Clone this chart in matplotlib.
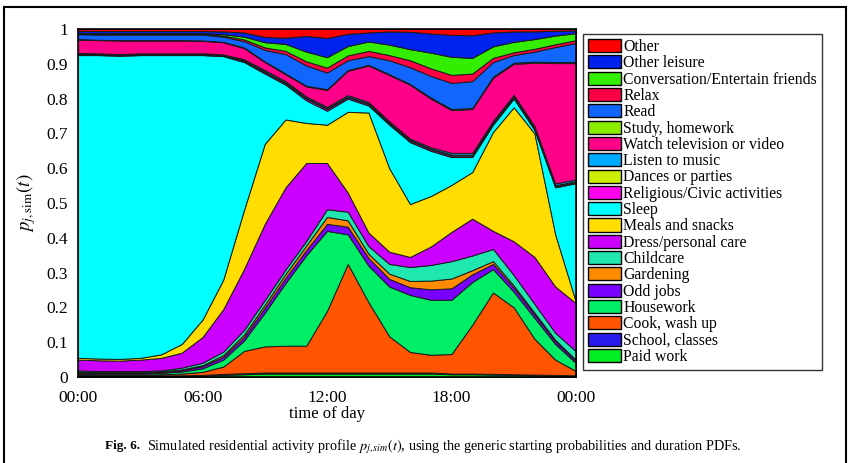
import numpy as np
import matplotlib
matplotlib.use("Agg")
import matplotlib.pyplot as plt
from matplotlib.patches import Patch, Rectangle

plt.rcParams['font.family'] = ['Liberation Serif', 'DejaVu Serif']
plt.rcParams['mathtext.fontset'] = 'stix'

hours = list(range(25))

# stacking order, bottom -> top
paid_work = [0.003,0.003,0.003,0.003,0.003,0.003,0.004,0.006,0.008,0.01,0.01,0.01,0.01,0.01,0.01,0.01,0.01,0.01,0.008,0.008,0.007,0.006,0.005,0.004,0.003]
school = [0.002,0.002,0.002,0.002,0.002,0.002,0.002,0.003,0.003,0.003,0.003,0.003,0.003,0.003,0.003,0.003,0.003,0.003,0.002,0.002,0.002,0.002,0.002,0.002,0.002]
cook = [0.003,0.002,0.002,0.002,0.003,0.005,0.009,0.021,0.064,0.075,0.077,0.077,0.177,0.312,0.202,0.104,0.059,0.051,0.056,0.14,0.234,0.192,0.103,0.044,0.012]
housework = [0.003,0.003,0.003,0.003,0.004,0.006,0.01,0.02,0.03,0.097,0.18,0.26,0.23,0.085,0.105,0.143,0.164,0.158,0.156,0.123,0.067,0.045,0.06,0.045,0.023]
odd_jobs = [0.003,0.003,0.003,0.003,0.003,0.004,0.006,0.008,0.01,0.014,0.015,0.015,0.02,0.022,0.022,0.022,0.022,0.03,0.033,0.022,0.015,0.012,0.01,0.008,0.006]
gardening = [0.001,0.001,0.001,0.001,0.001,0.002,0.003,0.005,0.007,0.009,0.011,0.013,0.02,0.018,0.012,0.015,0.018,0.025,0.028,0.012,0.008,0.006,0.005,0.004,0.003]
childcare = [0.004,0.003,0.003,0.003,0.003,0.005,0.007,0.01,0.013,0.013,0.013,0.013,0.022,0.025,0.022,0.028,0.04,0.045,0.05,0.042,0.035,0.03,0.025,0.02,0.025]
dress = [0.031,0.031,0.030,0.033,0.036,0.043,0.074,0.122,0.175,0.219,0.236,0.224,0.133,0.055,0.039,0.035,0.029,0.053,0.084,0.106,0.052,0.097,0.135,0.133,0.138]
meals = [0.005,0.005,0.005,0.005,0.01,0.025,0.05,0.085,0.17,0.23,0.195,0.115,0.11,0.232,0.345,0.24,0.152,0.145,0.135,0.134,0.284,0.385,0.355,0.15,0.003]
sleep = [0.87,0.872,0.871,0.87,0.86,0.83,0.76,0.642,0.425,0.202,0.10,0.065,0.04,0.038,0.02,0.125,0.178,0.13,0.08,0.043,0.021,0.025,0.01,0.135,0.342]
religious = [0.002,0.002,0.002,0.002,0.002,0.002,0.002,0.002,0.003,0.004,0.004,0.005,0.005,0.004,0.004,0.004,0.004,0.004,0.004,0.004,0.003,0.003,0.003,0.003,0.003]
dances = [0.001,0.001,0.001,0.001,0.001,0.001,0.001,0.001,0.002,0.002,0.002,0.002,0.002,0.002,0.002,0.002,0.002,0.002,0.003,0.003,0.003,0.003,0.003,0.003,0.003]
music = [0.003,0.002,0.002,0.002,0.002,0.002,0.002,0.002,0.003,0.004,0.004,0.004,0.004,0.004,0.004,0.004,0.004,0.004,0.005,0.005,0.005,0.005,0.005,0.005,0.005]
television = [0.039,0.038,0.039,0.037,0.037,0.037,0.036,0.035,0.032,0.023,0.02,0.029,0.049,0.07,0.105,0.133,0.155,0.14,0.123,0.126,0.124,0.089,0.182,0.346,0.334]
study = [0.001,0.001,0.001,0.001,0.001,0.001,0.001,0.001,0.002,0.002,0.002,0.002,0.002,0.002,0.002,0.002,0.002,0.003,0.003,0.003,0.003,0.003,0.003,0.003,0.003]
read = [0.014,0.015,0.016,0.016,0.016,0.016,0.017,0.015,0.018,0.033,0.056,0.058,0.048,0.028,0.025,0.04,0.048,0.062,0.075,0.077,0.042,0.022,0.029,0.043,0.055]
relax = [0.002,0.002,0.002,0.002,0.002,0.002,0.002,0.003,0.005,0.007,0.009,0.012,0.014,0.014,0.015,0.015,0.02,0.022,0.023,0.022,0.012,0.008,0.008,0.008,0.008]
conversation = [0.002,0.002,0.002,0.002,0.002,0.002,0.002,0.004,0.008,0.015,0.02,0.028,0.03,0.027,0.027,0.03,0.032,0.045,0.052,0.045,0.033,0.03,0.028,0.025,0.02]
other_leisure = [0.006,0.006,0.006,0.006,0.006,0.006,0.006,0.008,0.012,0.015,0.018,0.045,0.055,0.035,0.026,0.038,0.05,0.055,0.063,0.065,0.04,0.03,0.022,0.014,0.008]
other = [0.005,0.006,0.006,0.006,0.006,0.006,0.006,0.007,0.01,0.023,0.025,0.02,0.026,0.014,0.01,0.007,0.008,0.013,0.017,0.018,0.01,0.007,0.007,0.005,0.004]

labels = ["Paid work", "School, classes", "Cook, wash up", "Housework", "Odd jobs",
          "Gardening", "Childcare", "Dress/personal care", "Meals and snacks", "Sleep",
          "Religious/Civic activities", "Dances or parties", "Listen to music",
          "Watch television or video", "Study, homework", "Read", "Relax",
          "Conversation/Entertain friends", "Other leisure", "Other"]
series = [paid_work, school, cook, housework, odd_jobs, gardening, childcare, dress,
          meals, sleep, religious, dances, music, television, study, read, relax,
          conversation, other_leisure, other]
colors = ["#00ee22", "#2a1aee", "#ff5500", "#00ee66", "#7a00ff", "#ff8c00", "#1ee8b0",
          "#cc00ff", "#ffdd00", "#00ffff", "#ff00ee", "#ccee00", "#00aaff", "#ff0088",
          "#88ee00", "#1166ff", "#ff0044", "#33ee00", "#0022ee", "#ff0000"]

fig = plt.figure(figsize=(8.5, 4.63), dpi=100)
ax = fig.add_axes([0.0918, 0.1857, 0.5858, 0.7517])
ax.stackplot(hours, *series, colors=colors, edgecolor='#1a1a1a', linewidth=0.7)
ax.set_xlim(0, 24)
ax.set_ylim(0, 1)
ax.set_xticks([0, 6, 12, 18, 24])
ax.set_xticklabels(["00:00", "06:00", "12:00", "18:00", "00:00"], fontsize=12.5)
yt = [i / 10 for i in range(11)]
ax.set_yticks(yt)
ax.set_yticklabels(["0", "0.1", "0.2", "0.3", "0.4", "0.5", "0.6", "0.7", "0.8", "0.9", "1"], fontsize=12.5)
ax.tick_params(axis='x', length=0, pad=9)
ax.tick_params(axis='y', length=0, pad=7)
for s in ax.spines.values():
    s.set_linewidth(1.2)
ax.set_xlabel("time of day", fontsize=12, labelpad=0)
ax.set_ylabel(r"$p_{j,\mathrm{sim}}(t)$", fontsize=13.5, labelpad=6)

handles = [Patch(facecolor=c, edgecolor='black', linewidth=1.0) for c in colors[::-1]]
leg = fig.legend(handles, labels[::-1], loc='upper left', bbox_to_anchor=(0.686, 0.926),
                 fontsize=11.3, frameon=True, fancybox=False, edgecolor='black',
                 handlelength=2.1, handleheight=0.9, handletextpad=0.15,
                 labelspacing=0.02, borderpad=0.3, borderaxespad=0)
leg.get_frame().set_linewidth(1.0)

fig.text(0.1235, 0.036, "Fig. 6.", fontsize=9.5, fontweight='bold', ha='left', va='center')
fig.text(0.173, 0.036, r"Simulated residential activity profile $p_{j,sim}(t)$, using the generic starting probabilities and duration PDFs.",
         fontsize=10.3, ha='left', va='center')

fig.add_artist(Rectangle((4/850, -0.05), 842/850, 1 - 7/463 + 0.05, transform=fig.transFigure,
                         fill=False, edgecolor='black', linewidth=1.5))

fig.savefig("out.png", dpi=100)
